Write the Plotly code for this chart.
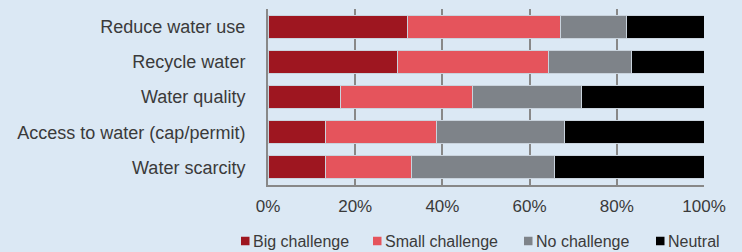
import plotly.graph_objects as go

categories = ["Reduce water use", "Recycle water", "Water quality",
              "Access to water (cap/permit)", "Water scarcity"]
big_challenge = [0.319, 0.296, 0.167, 0.131, 0.131]
small_challenge = [0.353, 0.348, 0.302, 0.256, 0.197]
no_challenge = [0.151, 0.189, 0.249, 0.294, 0.330]
neutral = [0.177, 0.167, 0.282, 0.319, 0.342]
series_names = ["Big challenge", "Small challenge", "No challenge", "Neutral"]
series_colors = ["#9e1620", "#e5545c", "#7e8389", "#000000"]
tick_vals = [0, 0.2, 0.4, 0.6, 0.8, 1.0]
tick_text = ["0%", "20%", "40%", "60%", "80%", "100%"]

BG = "#dbe8f4"
FONT = "Liberation Sans, Arial, sans-serif"
TXT = "#3a3a3a"

W, H = 742, 252
ML, MR, MT, MB = 268, 38, 9, 67
PW, PH = W - ML - MR, H - MT - MB

fig = go.Figure()
for name, vals, col in zip(series_names,
                           [big_challenge, small_challenge, no_challenge, neutral],
                           series_colors):
    fig.add_trace(go.Bar(
        y=categories, x=vals, name=name, orientation="h",
        marker=dict(color=col, line=dict(color="#c9d3dd", width=1)),
        showlegend=False,
    ))

# custom legend (small squares close to text, as in the reference)
legend_px = [241, 373, 524, 656]   # left edge of each legend square, pixels
legend_py = 241                    # vertical centre of legend row, pixels
sq = 8.5

def px2x(p):
    return (p - ML) / PW

def py2y(p):
    return (H - MB - p) / PH

shapes, annotations = [], []
for name, col, lx in zip(series_names, series_colors, legend_px):
    shapes.append(dict(type="rect", xref="paper", yref="paper",
                       x0=px2x(lx), x1=px2x(lx + sq),
                       y0=py2y(legend_py + sq / 2), y1=py2y(legend_py - sq / 2),
                       fillcolor=col, line=dict(width=0)))
    annotations.append(dict(text=name, xref="paper", yref="paper",
                            x=px2x(lx + sq + 1.5), y=py2y(legend_py),
                            xanchor="left", yanchor="middle", showarrow=False,
                            font=dict(size=16, color=TXT, family=FONT)))

fig.update_layout(
    width=W, height=H,
    barmode="stack", bargap=0.35,
    paper_bgcolor=BG, plot_bgcolor=BG,
    margin=dict(l=ML, r=MR, t=MT, b=MB, autoexpand=False),
    font=dict(family=FONT, color=TXT),
    showlegend=False,
    shapes=shapes, annotations=annotations,
    xaxis=dict(range=[0, 1], tickvals=tick_vals, ticktext=tick_text,
               showgrid=True, gridcolor="#888888", gridwidth=2,
               showline=True, linecolor="#888888", linewidth=2,
               zeroline=False, ticks="", ticklabelstandoff=5, automargin=False,
               tickfont=dict(size=17, color=TXT)),
    yaxis=dict(categoryorder="array", categoryarray=categories, autorange="reversed",
               showline=True, linecolor="#888888", linewidth=2,
               showgrid=False, ticks="", ticklabelstandoff=17, automargin=False,
               tickfont=dict(size=18, color=TXT)),
)

fig.write_html("out.html", config={"displayModeBar": False},
               post_script="document.body.style.margin='0';document.body.style.background='%s';" % BG)
